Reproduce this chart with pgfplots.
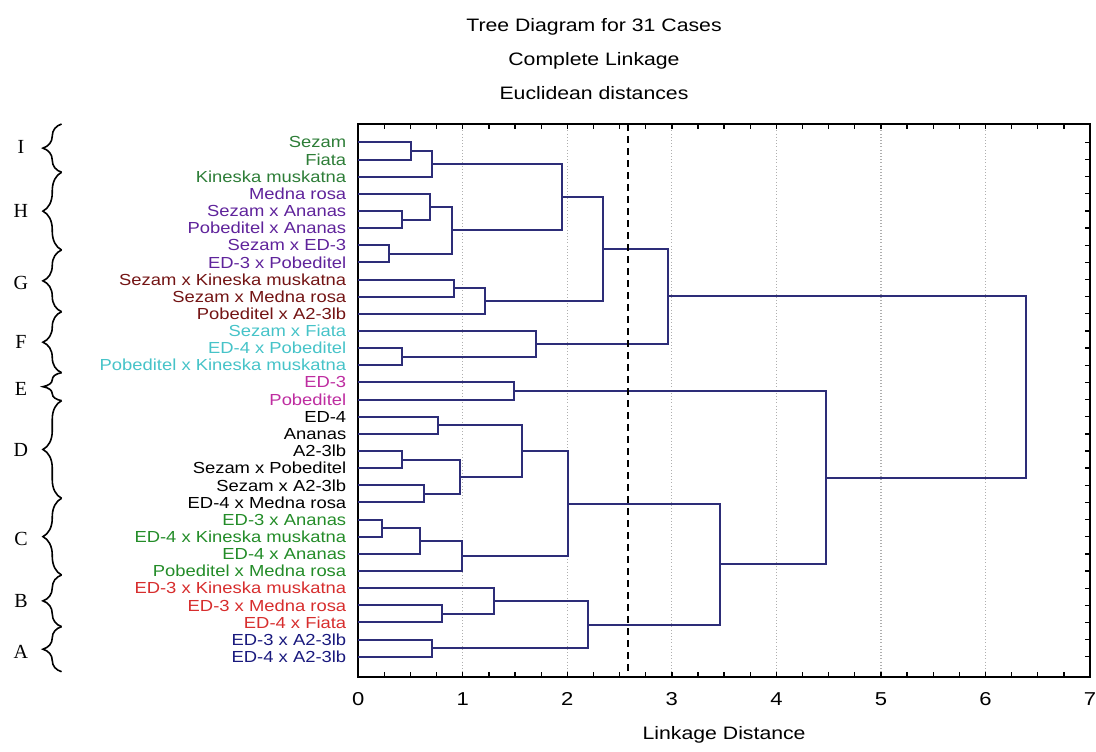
\documentclass[border=0pt]{standalone}
\usepackage{pgfplots}
\pgfplotsset{compat=1.18}
\usepackage{fontspec}
\usetikzlibrary{decorations.pathreplacing}

\newfontfamily\guifont[FakeStretch=1.18]{Liberation Sans}
\newfontfamily\leaffont[FakeStretch=1.15]{Liberation Sans}
\newfontfamily\groupfont{Liberation Serif}

\definecolor{treeline}{RGB}{45,45,120}
\definecolor{cI}{RGB}{45,125,55}
\definecolor{cH}{RGB}{95,35,155}
\definecolor{cG}{RGB}{115,20,20}
\definecolor{cF}{RGB}{70,195,200}
\definecolor{cE}{RGB}{190,45,160}
\definecolor{cD}{RGB}{0,0,0}
\definecolor{cC}{RGB}{35,140,40}
\definecolor{cB}{RGB}{215,45,45}
\definecolor{cA}{RGB}{25,25,125}
\definecolor{gridgray}{RGB}{175,175,175}

\pgfplotsset{merge/.style={treeline, line width=1.5pt, mark=none, line join=miter}}

\begin{document}
\begin{tikzpicture}
\begin{axis}[
  scale only axis, width=548.8pt, height=414.75pt,
  xmin=0, xmax=7, ymin=-0.07, ymax=32.18, y dir=reverse,
  clip=false,
  axis line style={line width=1.4pt},
  xtick={0,...,7}, xticklabels={0,1,2,3,4,5,6,7},
  minor x tick num=3,
  ytick={1,...,31},
  yticklabels={
    \textcolor{cI}{Sezam},
    \textcolor{cI}{Fiata},
    \textcolor{cI}{Kineska muskatna},
    \textcolor{cH}{Medna rosa},
    \textcolor{cH}{Sezam x Ananas},
    \textcolor{cH}{Pobeditel x Ananas},
    \textcolor{cH}{Sezam x ED-3},
    \textcolor{cH}{ED-3 x Pobeditel},
    \textcolor{cG}{Sezam x Kineska muskatna},
    \textcolor{cG}{Sezam x Medna rosa},
    \textcolor{cG}{Pobeditel x A2-3lb},
    \textcolor{cF}{Sezam x Fiata},
    \textcolor{cF}{ED-4 x Pobeditel},
    \textcolor{cF}{Pobeditel x Kineska muskatna},
    \textcolor{cE}{ED-3},
    \textcolor{cE}{Pobeditel},
    \textcolor{cD}{ED-4},
    \textcolor{cD}{Ananas},
    \textcolor{cD}{A2-3lb},
    \textcolor{cD}{Sezam x Pobeditel},
    \textcolor{cD}{Sezam x A2-3lb},
    \textcolor{cD}{ED-4 x Medna rosa},
    \textcolor{cC}{ED-3 x Ananas},
    \textcolor{cC}{ED-4 x Kineska muskatna},
    \textcolor{cC}{ED-4 x Ananas},
    \textcolor{cC}{Pobeditel x Medna rosa},
    \textcolor{cB}{ED-3 x Kineska muskatna},
    \textcolor{cB}{ED-3 x Medna rosa},
    \textcolor{cB}{ED-4 x Fiata},
    \textcolor{cA}{ED-3 x A2-3lb},
    \textcolor{cA}{ED-4 x A2-3lb}},
  tick align=inside,
  major tick length=3.5pt, minor tick length=3.5pt,
  tick style={black, line width=1pt},
  xmajorgrids,
  major x grid style={gridgray, dotted, line width=0.9pt},
  xticklabel style={font=\guifont\fontsize{14pt}{16pt}\selectfont, yshift=-8pt},
  yticklabel style={font=\leaffont\fontsize{12pt}{13pt}\selectfont, xshift=-5.5pt},
  xlabel={Linkage Distance},
  xlabel style={font=\guifont\fontsize{13.5pt}{16pt}\selectfont,
    at={(axis description cs:0.5,0)}, anchor=center, yshift=-43.5pt},
]
% top-left corner of the plotting frame, used to place the annotations outside the axis
\coordinate (TL) at (axis cs:0,-0.07);

% cluster I
\addplot[merge] coordinates {(0,1) (0.50,1) (0.50,2) (0,2)};
\addplot[merge] coordinates {(0.50,1.5) (0.71,1.5) (0.71,3) (0,3)};
% cluster H
\addplot[merge] coordinates {(0,5) (0.42,5) (0.42,6) (0,6)};
\addplot[merge] coordinates {(0,4) (0.686,4) (0.686,5.5) (0.42,5.5)};
\addplot[merge] coordinates {(0,7) (0.29,7) (0.29,8) (0,8)};
\addplot[merge] coordinates {(0.686,4.75) (0.895,4.75) (0.895,7.5) (0.29,7.5)};
\addplot[merge] coordinates {(0.71,2.25) (1.946,2.25) (1.946,6.125) (0.895,6.125)};
% cluster G
\addplot[merge] coordinates {(0,9) (0.92,9) (0.92,10) (0,10)};
\addplot[merge] coordinates {(0.92,9.5) (1.21,9.5) (1.21,11) (0,11)};
\addplot[merge] coordinates {(1.946,4.1875) (2.34,4.1875) (2.34,10.25) (1.21,10.25)};
% cluster F
\addplot[merge] coordinates {(0,13) (0.42,13) (0.42,14) (0,14)};
\addplot[merge] coordinates {(0,12) (1.70,12) (1.70,13.5) (0.42,13.5)};
\addplot[merge] coordinates {(2.34,7.21875) (2.96,7.21875) (2.96,12.75) (1.70,12.75)};
% cluster E
\addplot[merge] coordinates {(0,15) (1.49,15) (1.49,16) (0,16)};
% cluster D
\addplot[merge] coordinates {(0,17) (0.76,17) (0.76,18) (0,18)};
\addplot[merge] coordinates {(0,19) (0.42,19) (0.42,20) (0,20)};
\addplot[merge] coordinates {(0,21) (0.632,21) (0.632,22) (0,22)};
\addplot[merge] coordinates {(0.42,19.5) (0.975,19.5) (0.975,21.5) (0.632,21.5)};
\addplot[merge] coordinates {(0.76,17.5) (1.566,17.5) (1.566,20.5) (0.975,20.5)};
% cluster C
\addplot[merge] coordinates {(0,23) (0.226,23) (0.226,24) (0,24)};
\addplot[merge] coordinates {(0.226,23.5) (0.59,23.5) (0.59,25) (0,25)};
\addplot[merge] coordinates {(0.59,24.25) (0.997,24.25) (0.997,26) (0,26)};
\addplot[merge] coordinates {(1.566,19) (2.007,19) (2.007,25.125) (0.997,25.125)};
% cluster B
\addplot[merge] coordinates {(0,28) (0.80,28) (0.80,29) (0,29)};
\addplot[merge] coordinates {(0,27) (1.295,27) (1.295,28.5) (0.80,28.5)};
% cluster A
\addplot[merge] coordinates {(0,30) (0.71,30) (0.71,31) (0,31)};
\addplot[merge] coordinates {(1.295,27.75) (2.197,27.75) (2.197,30.5) (0.71,30.5)};
% upper levels
\addplot[merge] coordinates {(2.007,22.0625) (3.46,22.0625) (3.46,29.125) (2.197,29.125)};
\addplot[merge] coordinates {(1.49,15.5) (4.47,15.5) (4.47,25.59) (3.46,25.59)};
\addplot[merge] coordinates {(2.96,9.984) (6.39,9.984) (6.39,20.547) (4.47,20.547)};

% cut level
\addplot[black, line width=1.5pt, dash pattern=on 5.5pt off 3.5pt, mark=none]
  coordinates {(2.578,-0.07) (2.578,32.18)};
\end{axis}

\begin{scope}[shift={(TL)}]
  % title
  \node[font=\guifont\fontsize{13.5pt}{25.5pt}\selectfont, align=center]
    at (176.8pt,48.75pt) {Tree Diagram for 31 Cases\\Complete Linkage\\Euclidean distances};

  % group braces
  \begin{scope}[line width=1.2pt, decoration={brace, amplitude=14pt}]
    \draw[decorate] (-222.5pt,-36.2pt)  -- (-222.5pt,0pt);
    \draw[decorate] (-222.5pt,-94.5pt)  -- (-222.5pt,-36.2pt);
    \draw[decorate] (-222.5pt,-140.8pt) -- (-222.5pt,-94.5pt);
    \draw[decorate] (-222.5pt,-186.5pt) -- (-222.5pt,-140.8pt);
    \draw[decorate] (-222.5pt,-207.5pt) -- (-222.5pt,-186.5pt);
    \draw[decorate] (-222.5pt,-280.7pt) -- (-222.5pt,-207.5pt);
    \draw[decorate] (-222.5pt,-338.25pt) -- (-222.5pt,-280.7pt);
    \draw[decorate] (-222.5pt,-377.0pt) -- (-222.5pt,-338.25pt);
    \draw[decorate] (-222.5pt,-410.8pt) -- (-222.5pt,-377.0pt);
  \end{scope}
  \begin{scope}[font=\groupfont\fontsize{15pt}{17pt}\selectfont]
    \node at (-253pt,-17.25pt) {I};
    \node at (-253pt,-65.25pt) {H};
    \node at (-253pt,-119.25pt) {G};
    \node at (-253pt,-163.3pt) {F};
    \node at (-253pt,-198.75pt) {E};
    \node at (-253pt,-244.5pt) {D};
    \node at (-253pt,-311.25pt) {C};
    \node at (-253pt,-357.75pt) {B};
    \node at (-253pt,-395.8pt) {A};
  \end{scope}
\end{scope}

\pgfresetboundingbox
\useasboundingbox[shift={(TL)}] (-268.7pt,93pt) rectangle (553.3pt,-470.25pt);
\end{tikzpicture}
\end{document}
